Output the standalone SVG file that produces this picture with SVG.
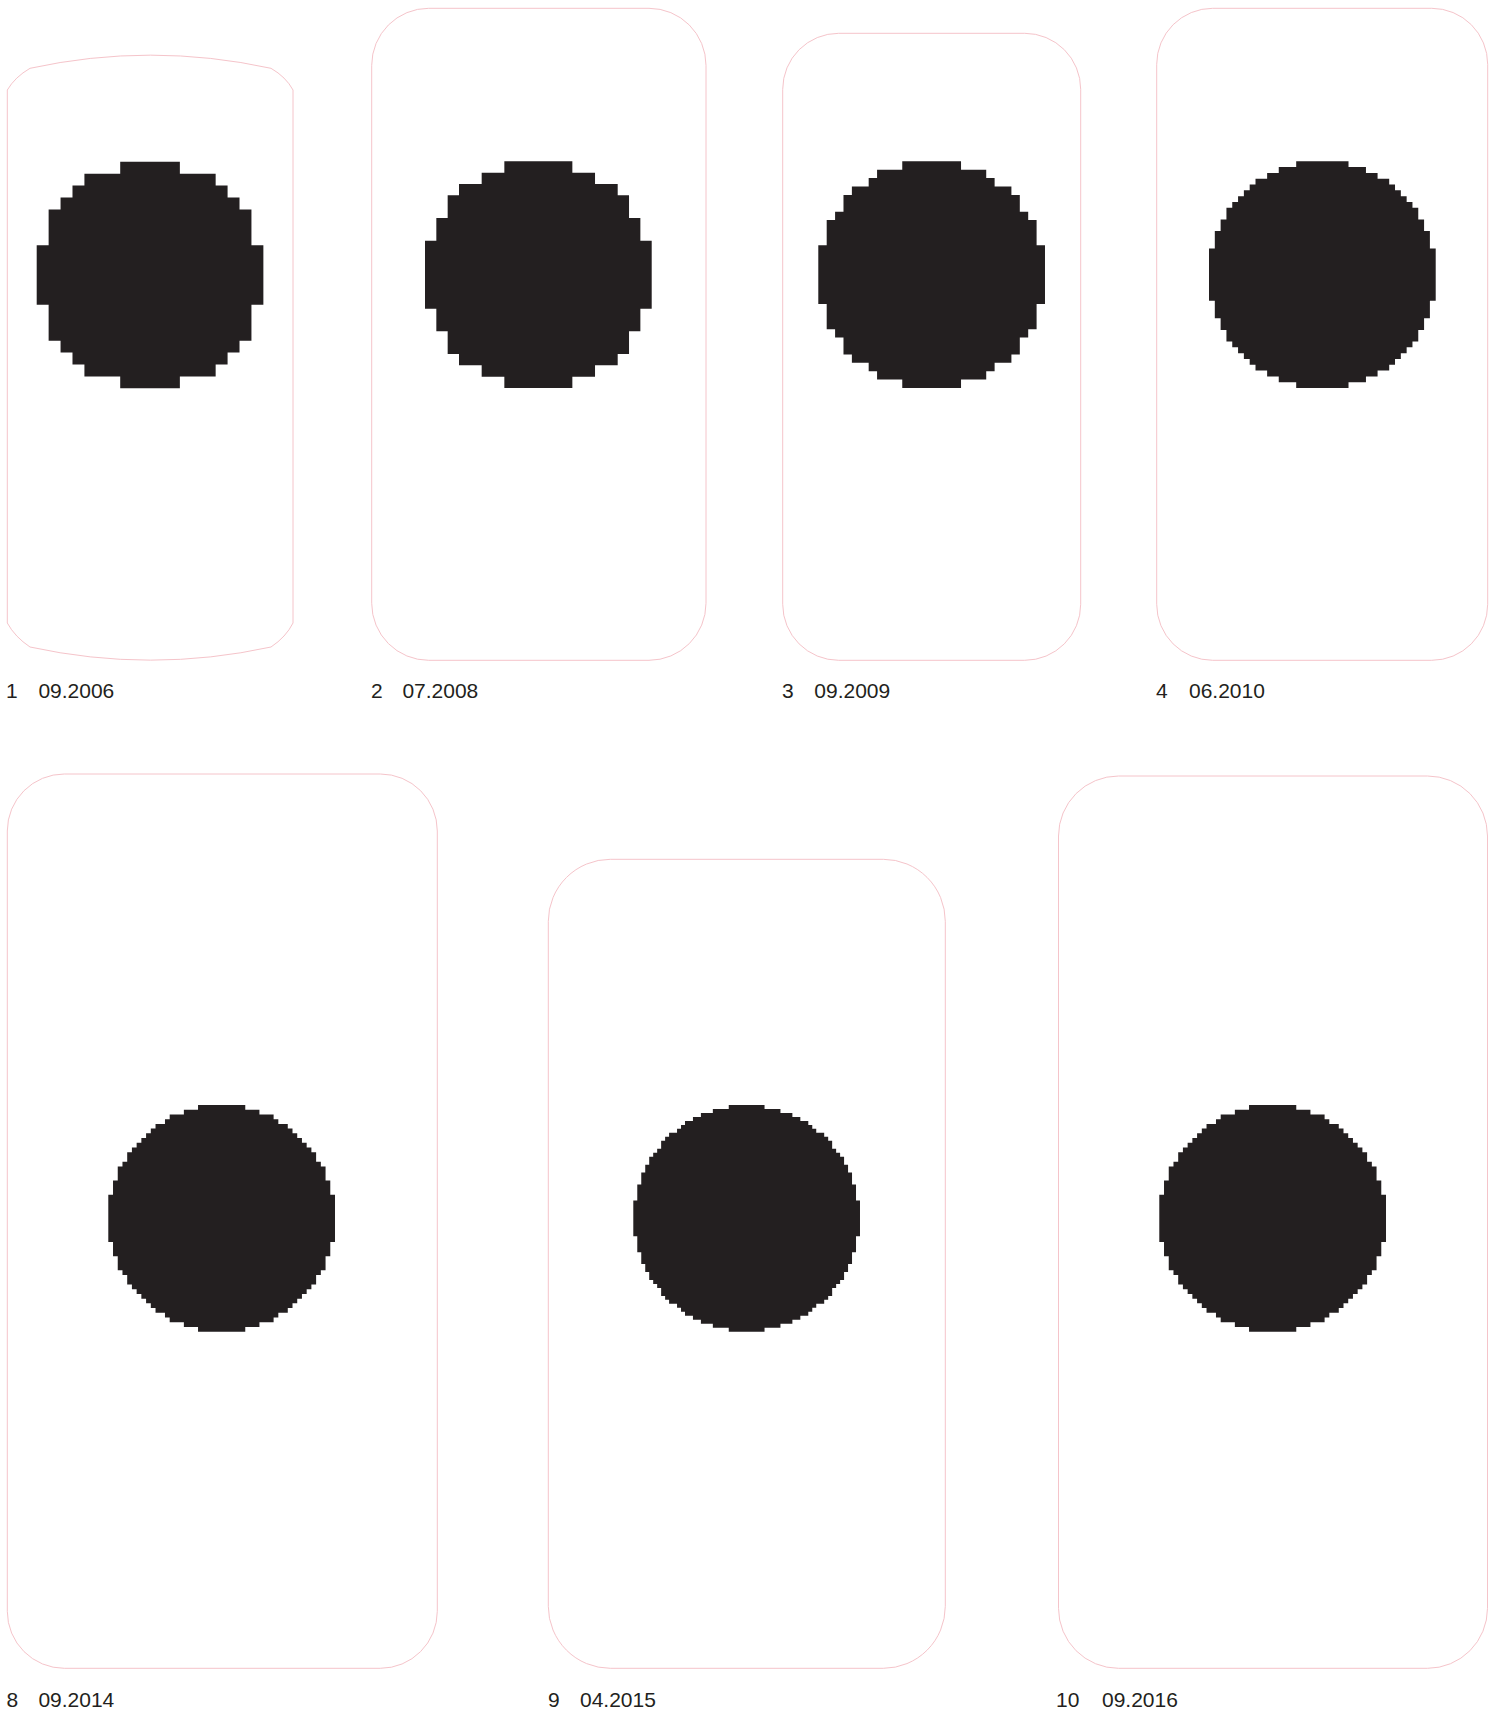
<svg xmlns="http://www.w3.org/2000/svg" width="1497" height="1713" viewBox="0 0 1497 1713">
<style>
.frame{fill:none;stroke:#f5c4ca;stroke-width:1}
.dot{fill:#231f20}
.lbl{font-family:"Liberation Sans",Arial,sans-serif;font-size:21px;fill:#231f20}
</style>
<defs>
<path id="c48" d="M19 0H29V1H32V2H35V3H36V4H38V5H39V6H40V7H41V8H42V9H43V10H44V12H45V13H46V16H47V19H48V29H47V32H46V35H45V36H44V38H43V39H42V40H41V41H40V42H39V43H38V44H36V45H35V46H32V47H29V48H19V47H16V46H13V45H12V44H10V43H9V42H8V41H7V40H6V39H5V38H4V36H3V35H2V32H1V29H0V19H1V16H2V13H3V12H4V10H5V9H6V8H7V7H8V6H9V5H10V4H12V3H13V2H16V1H19Z"/>
</defs>
<rect width="1497" height="1713" fill="#ffffff"/>
<g id="node-1">
<path class="frame" d="M7.3 90Q15 77 30 68.3A565 565 0 0 1 271 68.3Q286 77 293 90V623Q286 637 271 647A565 565 0 0 1 30 647Q15 637 7.3 623Z"/>
<path class="dot" transform="translate(36.7,161.7) scale(11.93)" d="M7 0H12V1H15V2H16V3H17V4H18V7H19V12H18V15H17V16H16V17H15V18H12V19H7V18H4V17H3V16H2V15H1V12H0V7H1V4H2V3H3V2H4V1H7Z"/>
<text class="lbl" x="6" y="698">1</text>
<text class="lbl" x="38.4" y="698">09.2006</text>
</g>
<g id="node-2">
<rect class="frame" x="371.7" y="8.3" width="334.3" height="652" rx="57"/>
<path class="dot" transform="translate(425,161.3) scale(11.335)" d="M7 0H13V1H15V2H17V3H18V5H19V7H20V13H19V15H18V17H17V18H15V19H13V20H7V19H5V18H3V17H2V15H1V13H0V7H1V5H2V3H3V2H5V1H7Z"/>
<text class="lbl" x="371" y="698">2</text>
<text class="lbl" x="402.4" y="698">07.2008</text>
</g>
<g id="node-3">
<rect class="frame" x="782.7" y="33.3" width="298" height="627" rx="56"/>
<path class="dot" transform="translate(818.3,161.3) scale(8.396)" d="M10 0H17V1H20V2H21V3H23V4H24V6H25V7H26V10H27V17H26V20H25V21H24V23H23V24H21V25H20V26H17V27H10V26H7V25H6V24H4V23H3V21H2V20H1V17H0V10H1V7H2V6H3V4H4V3H6V2H7V1H10Z"/>
<text class="lbl" x="782" y="698">3</text>
<text class="lbl" x="814.3" y="698">09.2009</text>
</g>
<g id="node-4">
<rect class="frame" x="1156.7" y="8.3" width="331" height="652" rx="56"/>
<path class="dot" transform="translate(1209,161.3) scale(5.813)" d="M15 0H24V1H27V2H29V3H31V4H32V5H33V6H34V7H35V8H36V10H37V12H38V15H39V24H38V27H37V29H36V31H35V32H34V33H33V34H32V35H31V36H29V37H27V38H24V39H15V38H12V37H10V36H8V35H7V34H6V33H5V32H4V31H3V29H2V27H1V24H0V15H1V12H2V10H3V8H4V7H5V6H6V5H7V4H8V3H10V2H12V1H15Z"/>
<text class="lbl" x="1156" y="698">4</text>
<text class="lbl" x="1189" y="698">06.2010</text>
</g>
<g id="node-8">
<rect class="frame" x="7.3" y="774" width="430" height="894.3" rx="57"/>
<use class="dot" href="#c48" transform="translate(108.3,1105) scale(4.723)"/>
<text class="lbl" x="6.5" y="1706.5">8</text>
<text class="lbl" x="38.4" y="1706.5">09.2014</text>
</g>
<g id="node-9">
<rect class="frame" x="548.3" y="859.3" width="397" height="809" rx="62"/>
<path class="dot" transform="translate(633.3,1105) scale(3.977)" d="M24 0H33V1H37V2H40V3H42V4H44V5H45V6H46V7H48V8H49V9H50V11H51V12H52V13H53V15H54V17H55V20H56V24H57V33H56V37H55V40H54V42H53V44H52V45H51V46H50V48H49V49H48V50H46V51H45V52H44V53H42V54H40V55H37V56H33V57H24V56H20V55H17V54H15V53H13V52H12V51H11V50H9V49H8V48H7V46H6V45H5V44H4V42H3V40H2V37H1V33H0V24H1V20H2V17H3V15H4V13H5V12H6V11H7V9H8V8H9V7H11V6H12V5H13V4H15V3H17V2H20V1H24Z"/>
<text class="lbl" x="548" y="1706.5">9</text>
<text class="lbl" x="580" y="1706.5">04.2015</text>
</g>
<g id="node-10">
<rect class="frame" x="1058.5" y="776" width="429" height="892.3" rx="60"/>
<use class="dot" href="#c48" transform="translate(1159.3,1105) scale(4.723)"/>
<text class="lbl" x="1056" y="1706.5">10</text>
<text class="lbl" x="1102" y="1706.5">09.2016</text>
</g>
<g id="connectors"></g>
</svg>
